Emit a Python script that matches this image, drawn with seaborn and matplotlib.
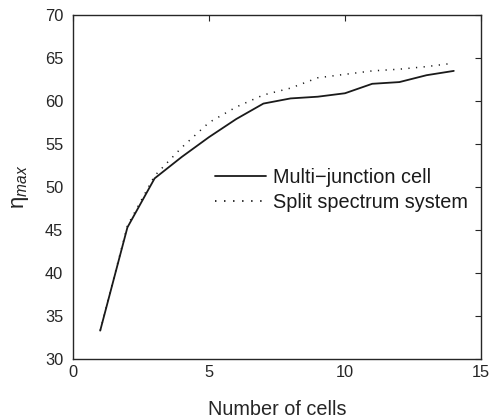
import matplotlib
matplotlib.use("Agg")
import matplotlib.pyplot as plt
import seaborn as sns
import pandas as pd

cells = [1, 2, 3, 4, 5, 6, 7, 8, 9, 10, 11, 12, 13, 14]
multi_junction = [33.3, 45.3, 51.0, 53.5, 55.8, 57.9, 59.7, 60.3, 60.5, 60.9, 62.0, 62.2, 63.0, 63.5]
split_spectrum = [33.3, 45.5, 51.3, 54.6, 57.5, 59.3, 60.7, 61.5, 62.7, 63.1, 63.5, 63.7, 64.0, 64.4]
series_names = ["Multi\u2212junction cell", "Split spectrum system"]

sns.set_theme(style="white")
plt.rcParams["font.family"] = ["Liberation Sans", "DejaVu Sans"]
plt.rcParams["mathtext.fontset"] = "custom"
plt.rcParams["mathtext.rm"] = "Liberation Sans"
plt.rcParams["mathtext.it"] = "Liberation Sans:italic"

df = pd.DataFrame({
    "cells": cells * 2,
    "eta": multi_junction + split_spectrum,
    "series": [series_names[0]] * len(cells) + [series_names[1]] * len(cells),
})

fig = plt.figure(figsize=(4.91, 4.19), dpi=100)
ax = fig.add_axes([0.1487, 0.1432, 0.8309, 0.8210])

sns.lineplot(data=df, x="cells", y="eta", hue="series", style="series",
             palette=["#1a1a1a", "#1a1a1a"], linewidth=1.3, ax=ax, legend=True)
lines = ax.get_lines()
lines[0].set_linestyle("-")
lines[1].set_linestyle((0, (0.8, 4.2)))
lines[1].set_linewidth(1.1)

ax.set_xlim(0, 15)
ax.set_ylim(30, 70)
ax.set_xticks([0, 5, 10, 15])
ax.set_yticks(range(30, 71, 5))
ax.tick_params(direction="in", length=4, width=0.8, top=True, right=True,
               labelsize=11.8, colors="#262626")
ax.tick_params(axis="x", pad=4.5)
ax.tick_params(axis="y", pad=7)
for s in ax.spines.values():
    s.set_color("#262626")
    s.set_linewidth(1.0)

ax.set_xlabel("Number of cells", fontsize=14.3, color="#262626", labelpad=14)
ax.set_ylabel(r"$\mathrm{\eta}_{max}$", fontsize=16, color="#262626", labelpad=10)

h, l = ax.get_legend_handles_labels()
leg = ax.legend(h[:2], series_names, loc="upper left", bbox_to_anchor=(0.303, 0.607),
                frameon=False, fontsize=14.3, handlelength=2.6, handletextpad=0.35,
                labelspacing=0.3)
for t in leg.get_texts():
    t.set_color("#1a1a1a")
for lh, ls in zip(leg.get_lines(), ["-", (0, (0.8, 4.2))]):
    lh.set_linestyle(ls)

fig.savefig("out.png", dpi=100)
